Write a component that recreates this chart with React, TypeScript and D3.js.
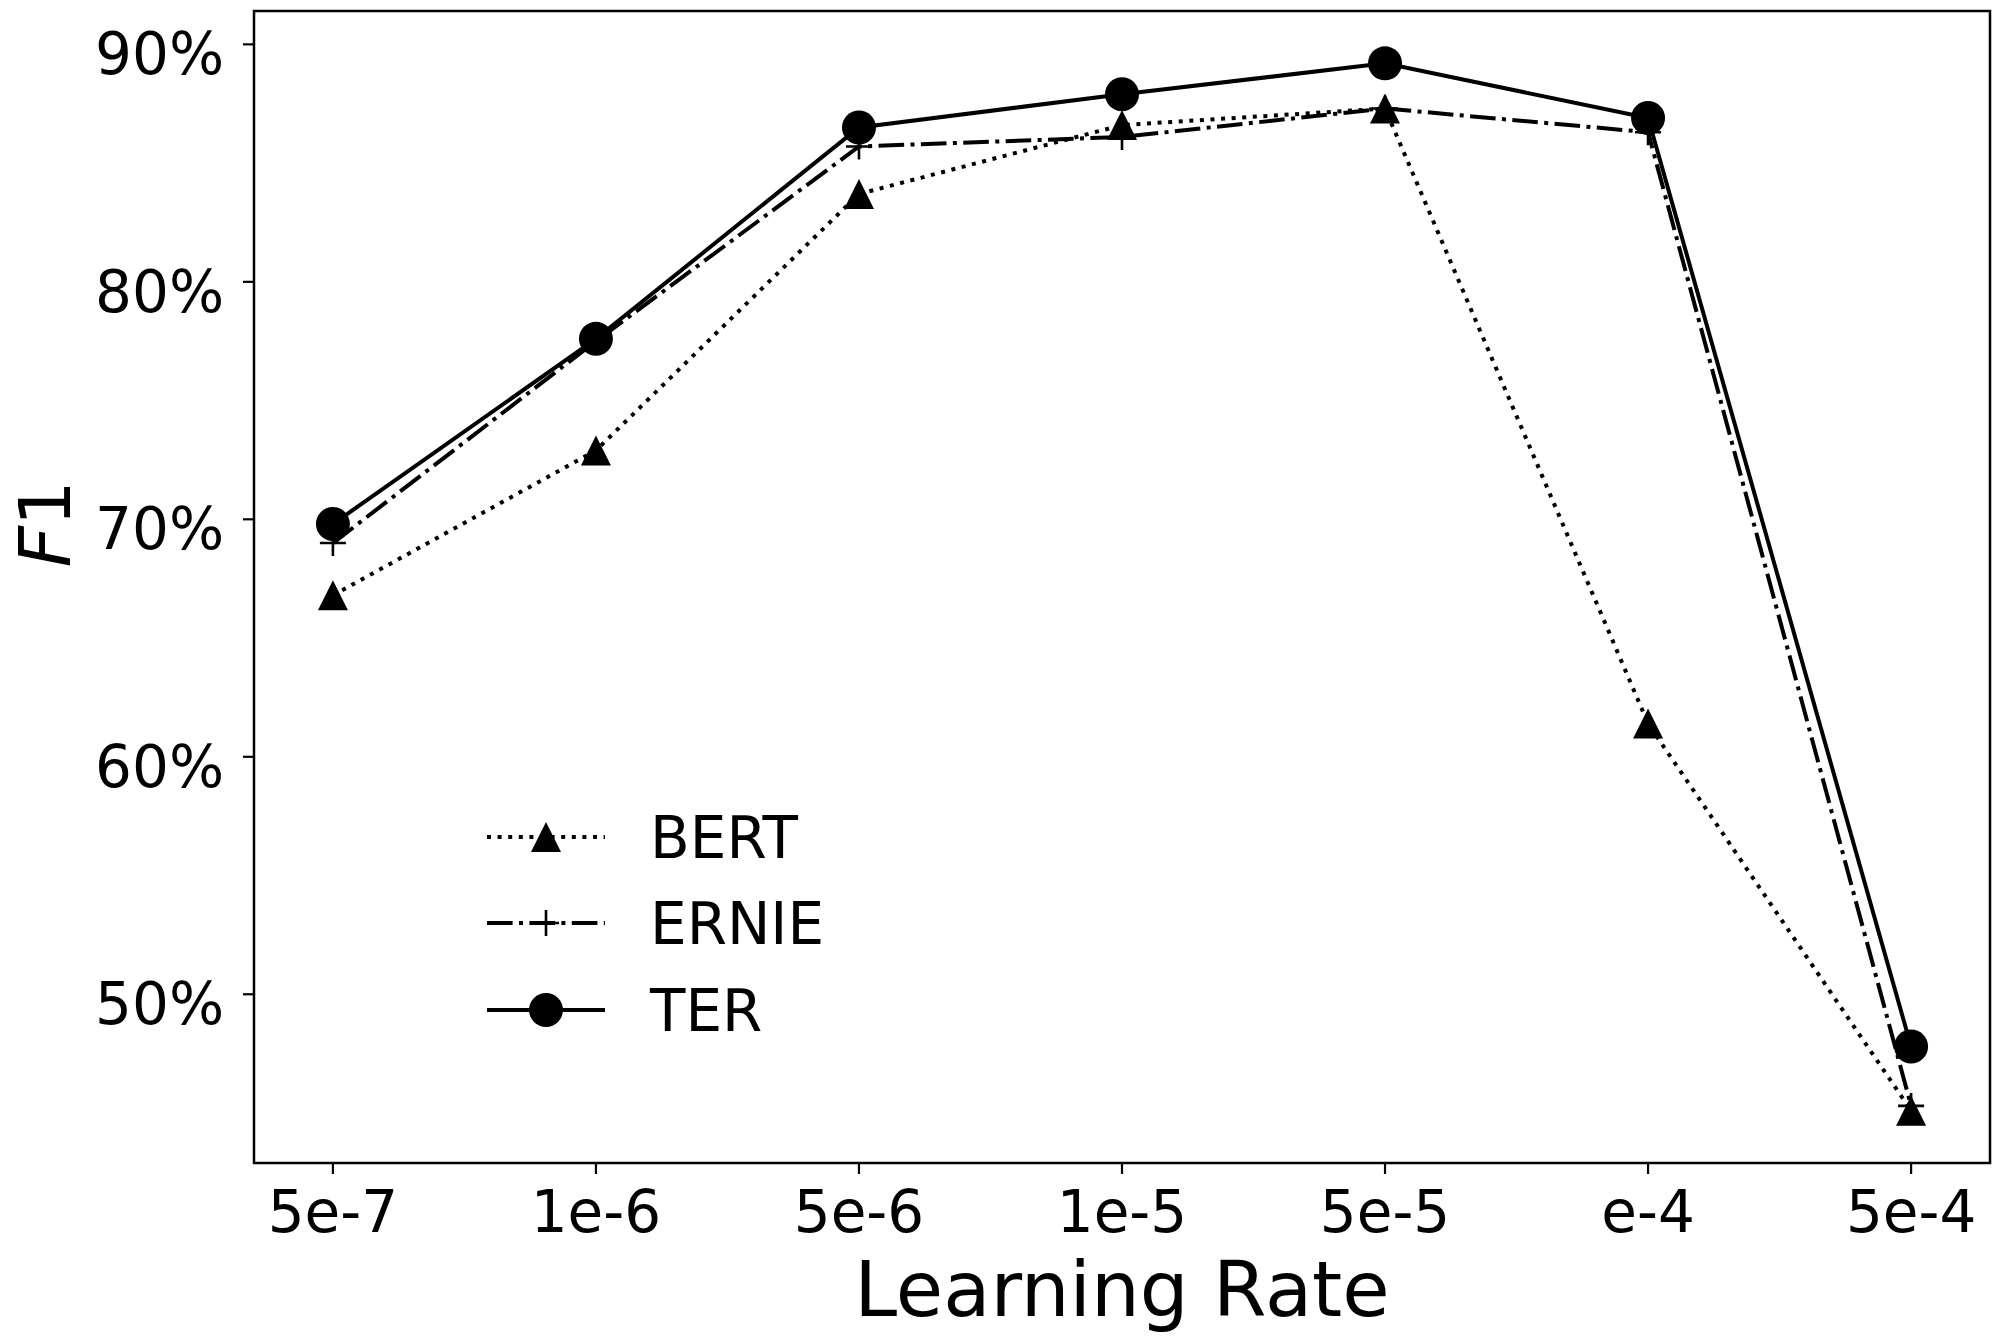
import * as d3 from "d3"

const categories = ["5e-7", "1e-6", "5e-6", "1e-5", "5e-5", "e-4", "5e-4"]
const bertValues = [66.8, 72.9, 83.7, 86.6, 87.3, 61.4, 45.1]
const ernieValues = [69.0, 77.5, 85.7, 86.1, 87.3, 86.3, 45.3]
const terValues = [69.8, 77.6, 86.5, 87.9, 89.2, 86.9, 47.8]
const yTicks = [50, 60, 70, 80, 90]

const W = 1999
const H = 1336
const margin = { top: 11, right: 9, bottom: 173, left: 254 }
const font = "DejaVu Sans"
const LW = 4

type Series = { name: string; values: number[]; dash: string; marker: "triangle" | "plus" | "circle" }

const series: Series[] = [
  { name: "BERT", values: bertValues, dash: `${1 * LW},${1.65 * LW}`, marker: "triangle" },
  { name: "ERNIE", values: ernieValues, dash: `${6.4 * LW},${1.6 * LW},${1 * LW},${1.6 * LW}`, marker: "plus" },
  { name: "TER", values: terValues, dash: "", marker: "circle" },
]

function Marker({ kind, x, y }: { kind: Series["marker"]; x: number; y: number }) {
  if (kind === "circle") return <circle cx={x} cy={y} r={17} fill="#000" />
  if (kind === "triangle") {
    const s = 15
    return <path d={`M${x},${y - s}L${x + s},${y + s}L${x - s},${y + s}Z`} fill="#000" />
  }
  const s = 13
  return (
    <path d={`M${x - s},${y}H${x + s}M${x},${y - s}V${y + s}`} stroke="#000" strokeWidth={2.6} fill="none" />
  )
}

export default function App() {
  const all = [...bertValues, ...ernieValues, ...terValues]
  const [lo, hi] = d3.extent(all) as [number, number]
  const pad = (hi - lo) * 0.05

  const x = d3
    .scaleLinear()
    .domain([-0.3, categories.length - 1 + 0.3])
    .range([margin.left, W - margin.right])
  const y = d3
    .scaleLinear()
    .domain([lo - pad, hi + pad])
    .range([H - margin.bottom, margin.top])

  const line = d3
    .line<number>()
    .x((_, i) => x(i))
    .y((d) => y(d))

  const left = margin.left
  const right = W - margin.right
  const top = margin.top
  const bottom = H - margin.bottom

  // legend layout
  const legX0 = 487
  const legX1 = 605
  const legRows = [837, 923, 1010]

  return (
    <svg
      width={W}
      height={H}
      style={{ position: "absolute", left: 0, top: 0, background: "#fff" }}
      fontFamily={font}
    >
      <rect width={W} height={H} fill="#fff" />

      {/* series */}
      {series.map((s) => (
        <g key={s.name}>
          <path
            d={line(s.values) || ""}
            fill="none"
            stroke="#000"
            strokeWidth={LW}
            strokeDasharray={s.dash || undefined}
          />
          {s.values.map((v, i) => (
            <Marker key={i} kind={s.marker} x={x(i)} y={y(v)} />
          ))}
        </g>
      ))}

      {/* frame */}
      <rect x={left} y={top} width={right - left} height={bottom - top} fill="none" stroke="#000" strokeWidth={2.5} />

      {/* y axis */}
      {yTicks.map((t) => (
        <g key={t}>
          <line x1={left - 11} x2={left} y1={y(t)} y2={y(t)} stroke="#000" strokeWidth={2.2} />
          <text x={224} y={y(t) + 30} textAnchor="end" fontSize={58}>
            {t}%
          </text>
        </g>
      ))}

      {/* x axis */}
      {categories.map((c, i) => (
        <g key={c}>
          <line x1={x(i)} x2={x(i)} y1={bottom} y2={bottom + 11} stroke="#000" strokeWidth={2.2} />
          <text x={x(i)} y={1232} textAnchor="middle" fontSize={58}>
            {c}
          </text>
        </g>
      ))}

      <text x={(left + right) / 2} y={1316} textAnchor="middle" fontSize={77}>
        Learning Rate
      </text>
      <text transform="translate(70,524) rotate(-90)" textAnchor="middle" fontSize={72}>
        <tspan fontStyle="italic">F</tspan>
        <tspan>1</tspan>
      </text>

      {/* legend */}
      {series.map((s, i) => (
        <g key={s.name}>
          <line
            x1={legX0}
            x2={legX1}
            y1={legRows[i]}
            y2={legRows[i]}
            stroke="#000"
            strokeWidth={LW}
            strokeDasharray={s.dash || undefined}
          />
          <Marker kind={s.marker} x={(legX0 + legX1) / 2} y={legRows[i]} />
          <text x={650} y={legRows[i] + 21} fontSize={58}>
            {s.name}
          </text>
        </g>
      ))}
    </svg>
  )
}
